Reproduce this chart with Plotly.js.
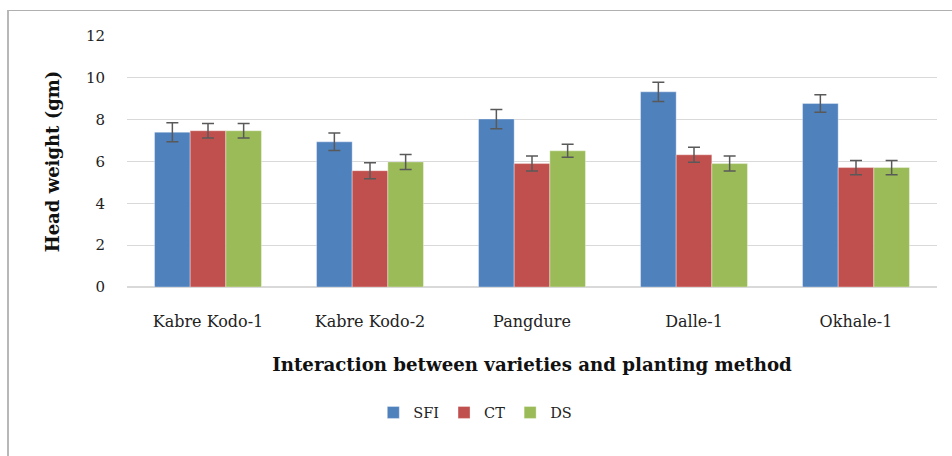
<!DOCTYPE html>
<html>
<head>
<meta charset="utf-8">
<script src="https://cdn.plot.ly/plotly-3.0.1.min.js"></script>
<style>
html,body{margin:0;padding:0;background:#fff;}
#wrap{position:relative;width:952px;height:456px;overflow:hidden;}
#frame{position:absolute;left:7px;top:10px;width:960px;height:470px;border-left:2px solid #b8b8b8;border-top:1px solid #b0b0b0;pointer-events:none;}
#chart{position:absolute;left:0;top:0;width:952px;height:456px;}
</style>
</head>
<body>
<div id="wrap">
<div id="chart"></div>
<div id="frame"></div>
</div>
<script>
const categories = ["Kabre Kodo-1", "Kabre Kodo-2", "Pangdure", "Dalle-1", "Okhale-1"];
const sfi = [7.40, 6.94, 8.03, 9.33, 8.77];
const ct  = [7.47, 5.56, 5.90, 6.32, 5.71];
const ds  = [7.47, 5.98, 6.51, 5.90, 5.71];
const sfiErr = [0.45, 0.42, 0.46, 0.46, 0.42];
const ctErr  = [0.35, 0.38, 0.36, 0.36, 0.34];
const dsErr  = [0.35, 0.36, 0.31, 0.36, 0.34];
const yTicks = [0, 2, 4, 6, 8, 10, 12];

const serif = "'DejaVu Serif', 'Liberation Serif', serif";
const errStyle = {type:'data', visible:true, thickness:1.5, width:6, color:'#595959'};

function series(name, vals, errs, color){
  return {
    type:'bar', name:name, x:categories, y:vals,
    marker:{color:color, line:{color:'rgba(255,255,255,0.35)', width:1}},
    error_y:Object.assign({array:errs}, errStyle),
    hoverinfo:'skip'
  };
}

const data = [
  series('SFI', sfi, sfiErr, '#4f81bd'),
  series('CT', ct, ctErr, '#c0504d'),
  series('DS', ds, dsErr, '#9bbb59')
];

const layout = {
  width:952, height:456,
  margin:{l:127, r:15, t:36, b:169},
  paper_bgcolor:'#ffffff', plot_bgcolor:'#ffffff',
  barmode:'group', bargap:0.34, bargroupgap:0,
  showlegend:true,
  legend:{orientation:'h', x:0.43, xanchor:'center', y:-0.5, yanchor:'middle',
          font:{family:serif, size:14.5, color:'#222'}, itemwidth:30, traceorder:'normal'},
  xaxis:{
    type:'category', showgrid:false, zeroline:false, showline:false, ticks:'',
    tickfont:{family:serif, size:16, color:'#222'}, ticklabelstandoff:23,
    title:{text:'Interaction between varieties and planting method', font:{family:serif, size:18.2, color:'#111', weight:600}, standoff:28}
  },
  yaxis:{
    range:[0,12], tickvals:yTicks, ticktext:yTicks.map(String),
    showgrid:true, gridcolor:'#d9d9d9', gridwidth:1.2,
    zeroline:true, zerolinecolor:'#d9d9d9', zerolinewidth:1.5,
    showline:false, ticks:'',
    tickfont:{family:serif, size:15, color:'#222'}, ticklabelstandoff:21,
    title:{text:'<b>Head weight (gm)</b>', font:{family:serif, size:18, color:'#111'}, standoff:21}
  }
};

Plotly.newPlot('chart', data, layout, {staticPlot:true, displayModeBar:false});
</script>
</body>
</html>
